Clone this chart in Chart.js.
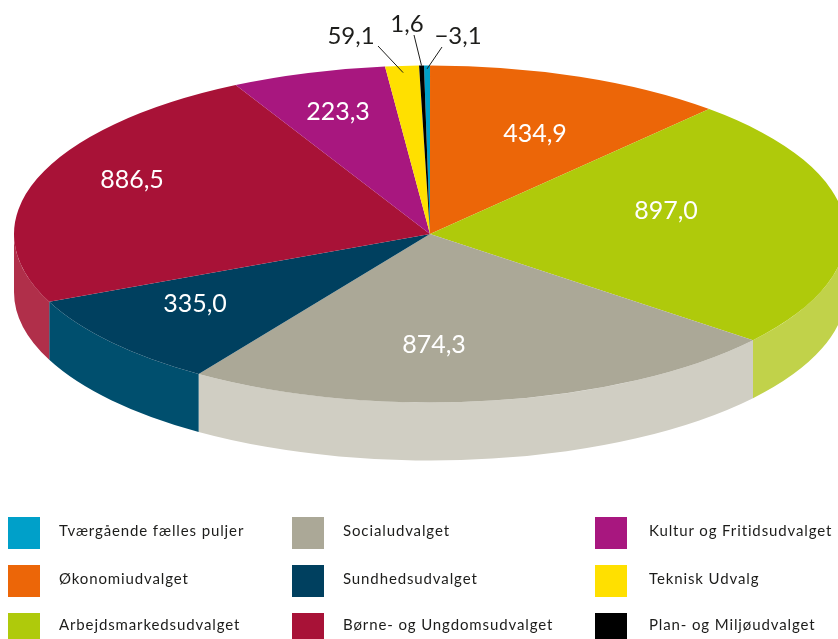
<!DOCTYPE html>
<html lang="da">
<head>
<meta charset="utf-8">
<title>Udvalg</title>
<script src="https://cdn.jsdelivr.net/npm/chart.js@4/dist/chart.umd.min.js"></script>
<style>
  html, body { margin: 0; padding: 0; background: #fff; overflow: hidden; }
  #wrap { position: relative; width: 838px; height: 639px; overflow: hidden; }
  #pie { position: absolute; left: 0; top: 0; }
  .box { position: absolute; width: 32px; height: 32px; }
  .txt { position: absolute; height: 32px; white-space: nowrap;
         font: 15px Lato, sans-serif; line-height: 30px; letter-spacing: 0.88px; color: #1d1d1b; }
</style>
</head>
<body>
<div id="wrap">
  <canvas id="pie" width="838" height="639"></canvas>
</div>
<script>
const categories = ["Tværgående fælles puljer", "Økonomiudvalget", "Arbejdsmarkedsudvalget", "Socialudvalget", "Sundhedsudvalget", "Børne- og Ungdomsudvalget", "Kultur og Fritidsudvalget", "Teknisk Udvalg", "Plan- og Miljøudvalget"];
// printed values
const printedValues = ["−3,1", "434,9", "897,0", "874,3", "335,0", "886,5", "223,3", "59,1", "1,6"];
const sliceSizes = [8.6, 434.9, 897.0, 874.3, 335.0, 886.5, 223.3, 48.5, 7];
const topColors = ["#00a0c9", "#ec6608", "#afca0b", "#aba897", "#00405f", "#a81237", "#a8177f", "#ffe000", "#000000"];
const wallColors = ["#00a0c9", "#ec6608", "#c1d24a", "#d0cec3", "#004f6e", "#b02f4a", "#a8177f", "#ffe000", "#000000"];

// pie look
const squash = 0.405;
const wallDepth = 58;
const pieRadius = 416;

// label centres in the picture
const labelSpots = [[458, 36], [535, 134], [666, 211], [434, 345], [195, 304], [132, 180], [338, 112], [351, 36], [407, 24]];
// small slices get a leader line: where it starts and how far out on the slice it ends
const leaderStart = { 0: [442, 47], 7: [378, 46], 8: [414, 35] };
const leaderReach = { 0: 0.98, 7: 0.96, 8: 1.0 };

// legend: column x of swatch and text, row y of swatch and text
const legendCols = [[8, 59], [292, 343], [595, 649]];
const legendRows = [517, 565, 613];
const legendTextRows = [515, 563, 609];

// legend
const wrap = document.getElementById("wrap");
categories.forEach((name, i) => {
  const col = legendCols[Math.floor(i / 3)];
  const row = i % 3;
  const box = document.createElement("div");
  box.className = "box";
  box.style.left = col[0] + "px";
  box.style.top = legendRows[row] + "px";
  box.style.background = topColors[i];
  wrap.appendChild(box);
  const txt = document.createElement("div");
  txt.className = "txt";
  txt.style.left = col[1] + "px";
  txt.style.top = legendTextRows[row] + "px";
  txt.textContent = name;
  wrap.appendChild(txt);
});

// flatten the round pie and put the side wall under it
const pie3d = {
  id: "pie3d",
  beforeDatasetDraw(chart) {
    const ctx = chart.ctx;
    const arcs = chart.getDatasetMeta(0).data;
    const cx = arcs[0].x, cy = arcs[0].y;
    ctx.save();
    arcs.forEach((arc, i) => {
      // only the front half of the rim shows
      const a = Math.max(arc.startAngle, 0);
      const b = Math.min(arc.endAngle, Math.PI);
      if (b <= a) return;
      ctx.beginPath();
      ctx.ellipse(cx, cy, pieRadius, pieRadius * squash, 0, a, b);
      ctx.ellipse(cx, cy + wallDepth, pieRadius, pieRadius * squash, 0, b, a, true);
      ctx.closePath();
      ctx.fillStyle = wallColors[i];
      ctx.fill();
    });
    ctx.restore();
    ctx.save();
    ctx.translate(cx, cy);
    ctx.scale(1, squash);
    ctx.translate(-cx, -cy);
  },
  afterDatasetDraw(chart) {
    chart.ctx.restore();
  },
  afterDatasetsDraw(chart) {
    const ctx = chart.ctx;
    ctx.save();
    ctx.textAlign = "center";
    ctx.textBaseline = "middle";
    chart.getDatasetMeta(0).data.forEach((arc, i) => {
      const spot = labelSpots[i];
      if (leaderStart[i]) {
        const mid = (arc.startAngle + arc.endAngle) / 2;
        const f = leaderReach[i];
        ctx.strokeStyle = "#1d1d1b";
        ctx.lineWidth = 1;
        ctx.beginPath();
        ctx.moveTo(leaderStart[i][0], leaderStart[i][1]);
        ctx.lineTo(arc.x + Math.cos(mid) * pieRadius * f, arc.y + Math.sin(mid) * pieRadius * squash * f);
        ctx.stroke();
        ctx.font = "24px Lato, sans-serif";
        ctx.fillStyle = "#1d1d1b";
      } else {
        ctx.font = "25px Lato, sans-serif";
        ctx.fillStyle = "#ffffff";
      }
      ctx.fillText(printedValues[i], spot[0], spot[1]);
    });
    ctx.restore();
  }
};

new Chart(document.getElementById("pie"), {
  type: "pie",
  data: {
    labels: categories,
    datasets: [{
      data: sliceSizes,
      backgroundColor: topColors,
      borderWidth: 0,
      clip: false
    }]
  },
  options: {
    responsive: false,
    animation: false,
    radius: pieRadius,
    rotation: -0.83,
    // keeps the pie centre at 430,234
    layout: { padding: { left: 22, right: 0, top: 0, bottom: 171 } },
    plugins: { legend: { display: false }, tooltip: { enabled: false } }
  },
  plugins: [pie3d]
});
</script>
</body>
</html>
